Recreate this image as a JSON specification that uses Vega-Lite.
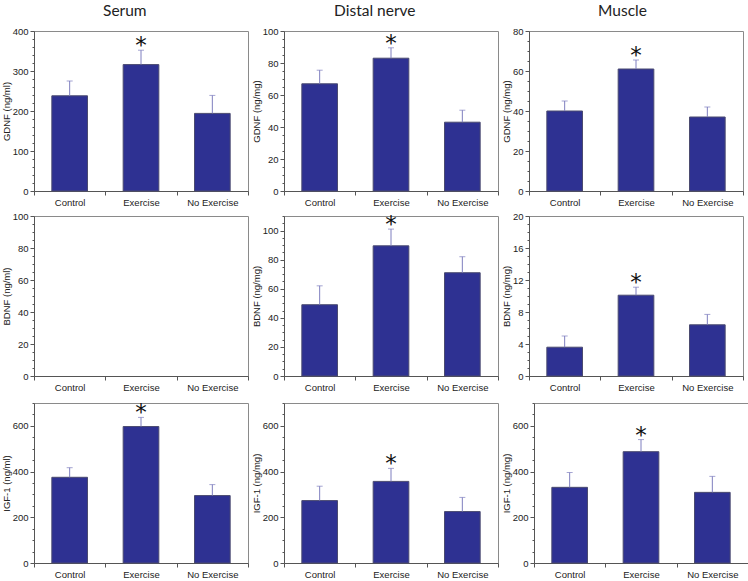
{
  "$schema": "https://vega.github.io/schema/vega-lite/v6.json",
  "padding": {"top": 3, "left": 0, "right": 3, "bottom": 0},
  "background": "white",
  "spacing": 9,
  "config": {
    "view": {"stroke": "#8a8a8a", "strokeWidth": 1},
    "axis": {
      "labelFont": "Liberation Sans", "labelFontSize": 9.5, "labelColor": "#222",
      "titleFont": "Liberation Sans", "titleFontSize": 9.5, "titleFontWeight": "normal", "titleColor": "#222",
      "domainColor": "#555", "tickColor": "#555", "grid": false, "tickSize": 4, "labelPadding": 2, "titlePadding": 1
    },
    "title": {"font": "Lato", "fontSize": 15.5, "fontWeight": "normal", "color": "#222", "anchor": "middle", "frame": "bounds", "offset": 7}
  },
  "datasets": {
    "d": [
      {"tissue": "Serum", "measure": "GDNF", "group": "Control", "mean": 238, "upper": 275, "star": ""},
      {"tissue": "Serum", "measure": "GDNF", "group": "Exercise", "mean": 316, "upper": 352, "star": "*"},
      {"tissue": "Serum", "measure": "GDNF", "group": "No Exercise", "mean": 194, "upper": 239, "star": ""},
      {"tissue": "Distal nerve", "measure": "GDNF", "group": "Control", "mean": 67, "upper": 75.5, "star": ""},
      {"tissue": "Distal nerve", "measure": "GDNF", "group": "Exercise", "mean": 83, "upper": 89.5, "star": "*"},
      {"tissue": "Distal nerve", "measure": "GDNF", "group": "No Exercise", "mean": 43, "upper": 50.5, "star": ""},
      {"tissue": "Muscle", "measure": "GDNF", "group": "Control", "mean": 40, "upper": 45, "star": ""},
      {"tissue": "Muscle", "measure": "GDNF", "group": "Exercise", "mean": 61, "upper": 65.5, "star": "*"},
      {"tissue": "Muscle", "measure": "GDNF", "group": "No Exercise", "mean": 37, "upper": 42, "star": ""},
      {"tissue": "Distal nerve", "measure": "BDNF", "group": "Control", "mean": 49, "upper": 62, "star": ""},
      {"tissue": "Distal nerve", "measure": "BDNF", "group": "Exercise", "mean": 89.5, "upper": 101, "star": "*"},
      {"tissue": "Distal nerve", "measure": "BDNF", "group": "No Exercise", "mean": 71, "upper": 82, "star": ""},
      {"tissue": "Muscle", "measure": "BDNF", "group": "Control", "mean": 3.6, "upper": 5.0, "star": ""},
      {"tissue": "Muscle", "measure": "BDNF", "group": "Exercise", "mean": 10.1, "upper": 11.1, "star": "*"},
      {"tissue": "Muscle", "measure": "BDNF", "group": "No Exercise", "mean": 6.4, "upper": 7.7, "star": ""},
      {"tissue": "Serum", "measure": "IGF", "group": "Control", "mean": 375, "upper": 417, "star": ""},
      {"tissue": "Serum", "measure": "IGF", "group": "Exercise", "mean": 597, "upper": 637, "star": "*"},
      {"tissue": "Serum", "measure": "IGF", "group": "No Exercise", "mean": 295, "upper": 343, "star": ""},
      {"tissue": "Distal nerve", "measure": "IGF", "group": "Control", "mean": 273, "upper": 336, "star": ""},
      {"tissue": "Distal nerve", "measure": "IGF", "group": "Exercise", "mean": 357, "upper": 414, "star": "*"},
      {"tissue": "Distal nerve", "measure": "IGF", "group": "No Exercise", "mean": 225, "upper": 287, "star": ""},
      {"tissue": "Muscle", "measure": "IGF", "group": "Control", "mean": 331, "upper": 396, "star": ""},
      {"tissue": "Muscle", "measure": "IGF", "group": "Exercise", "mean": 487, "upper": 540, "star": "*"},
      {"tissue": "Muscle", "measure": "IGF", "group": "No Exercise", "mean": 309, "upper": 379, "star": ""}
    ]
  },
  "vconcat": [
   {"spacing": 3, "vconcat": [
    {"spacing": 1, "hconcat": [
      {"width": 214, "height": 160, "title": "Serum", "data": {"name": "d"},
       "transform": [{"filter": "datum.tissue === 'Serum' && datum.measure === 'GDNF'"}],
       "encoding": {"x": {"field": "group", "type": "nominal", "scale": {"domain": ["Control", "Exercise", "No Exercise"], "paddingInner": 0, "paddingOuter": 0}, "axis": {"title": null, "labelAngle": 0, "tickBand": "extent"}}},
       "resolve": {"axis": {"y": "independent"}},
       "layer": [
         {"mark": {"type": "bar", "width": {"band": 0.5}, "fill": "#2e3192", "stroke": "#4b4b70", "strokeWidth": 1},
          "encoding": {"y": {"field": "mean", "type": "quantitative", "scale": {"domain": [0, 400]}, "axis": {"orient": "left", "title": "GDNF (ng/ml)", "values": [0, 100, 200, 300, 400]}}}},
         {"mark": {"type": "rule", "color": "#7f7fbf", "strokeWidth": 1},
          "encoding": {"y": {"field": "mean", "type": "quantitative", "scale": {"domain": [0, 400]}, "axis": {"orient": "left", "title": null, "labels": false, "domain": false, "tickSize": 2, "values": [20,40,60,80,120,140,160,180,220,240,260,280,320,340,360,380]}}, "y2": {"field": "upper"}}},
         {"mark": {"type": "tick", "color": "#7f7fbf", "size": 6, "thickness": 1},
          "encoding": {"y": {"field": "upper", "type": "quantitative", "scale": {"domain": [0, 400]}, "axis": null}}},
         {"mark": {"type": "text", "font": "DejaVu Sans", "fontSize": 23, "baseline": "alphabetic", "dy": 3, "color": "#111"},
          "encoding": {"y": {"field": "upper", "type": "quantitative", "scale": {"domain": [0, 400]}, "axis": null}, "text": {"field": "star"}}}
       ]},
      {"width": 214, "height": 160, "title": "Distal nerve", "data": {"name": "d"},
       "transform": [{"filter": "datum.tissue === 'Distal nerve' && datum.measure === 'GDNF'"}],
       "encoding": {"x": {"field": "group", "type": "nominal", "scale": {"domain": ["Control", "Exercise", "No Exercise"], "paddingInner": 0, "paddingOuter": 0}, "axis": {"title": null, "labelAngle": 0, "tickBand": "extent"}}},
       "resolve": {"axis": {"y": "independent"}},
       "layer": [
         {"mark": {"type": "bar", "width": {"band": 0.5}, "fill": "#2e3192", "stroke": "#4b4b70", "strokeWidth": 1},
          "encoding": {"y": {"field": "mean", "type": "quantitative", "scale": {"domain": [0, 100]}, "axis": {"orient": "left", "title": "GDNF (ng/mg)", "values": [0, 20, 40, 60, 80, 100]}}}},
         {"mark": {"type": "rule", "color": "#7f7fbf", "strokeWidth": 1},
          "encoding": {"y": {"field": "mean", "type": "quantitative", "scale": {"domain": [0, 100]}, "axis": {"orient": "left", "title": null, "labels": false, "domain": false, "tickSize": 2, "values": [5,10,15,25,30,35,45,50,55,65,70,75,85,90,95]}}, "y2": {"field": "upper"}}},
         {"mark": {"type": "tick", "color": "#7f7fbf", "size": 6, "thickness": 1},
          "encoding": {"y": {"field": "upper", "type": "quantitative", "scale": {"domain": [0, 100]}, "axis": null}}},
         {"mark": {"type": "text", "font": "DejaVu Sans", "fontSize": 23, "baseline": "alphabetic", "dy": 3, "color": "#111"},
          "encoding": {"y": {"field": "upper", "type": "quantitative", "scale": {"domain": [0, 100]}, "axis": null}, "text": {"field": "star"}}}
       ]},
      {"width": 214, "height": 160, "title": "Muscle", "data": {"name": "d"},
       "transform": [{"filter": "datum.tissue === 'Muscle' && datum.measure === 'GDNF'"}],
       "encoding": {"x": {"field": "group", "type": "nominal", "scale": {"domain": ["Control", "Exercise", "No Exercise"], "paddingInner": 0, "paddingOuter": 0}, "axis": {"title": null, "labelAngle": 0, "tickBand": "extent"}}},
       "resolve": {"axis": {"y": "independent"}},
       "layer": [
         {"mark": {"type": "bar", "width": {"band": 0.5}, "fill": "#2e3192", "stroke": "#4b4b70", "strokeWidth": 1},
          "encoding": {"y": {"field": "mean", "type": "quantitative", "scale": {"domain": [0, 80]}, "axis": {"orient": "left", "title": "GDNF (ng/mg)", "values": [0, 20, 40, 60, 80]}}}},
         {"mark": {"type": "rule", "color": "#7f7fbf", "strokeWidth": 1},
          "encoding": {"y": {"field": "mean", "type": "quantitative", "scale": {"domain": [0, 80]}, "axis": {"orient": "left", "title": null, "labels": false, "domain": false, "tickSize": 2, "values": [5,10,15,25,30,35,45,50,55,65,70,75]}}, "y2": {"field": "upper"}}},
         {"mark": {"type": "tick", "color": "#7f7fbf", "size": 6, "thickness": 1},
          "encoding": {"y": {"field": "upper", "type": "quantitative", "scale": {"domain": [0, 80]}, "axis": null}}},
         {"mark": {"type": "text", "font": "DejaVu Sans", "fontSize": 23, "baseline": "alphabetic", "dy": 3, "color": "#111"},
          "encoding": {"y": {"field": "upper", "type": "quantitative", "scale": {"domain": [0, 80]}, "axis": null}, "text": {"field": "star"}}}
       ]}
    ]},
    {"spacing": 1, "hconcat": [
      {"width": 214, "height": 160, "data": {"name": "d"},
       "transform": [{"filter": "datum.tissue === 'Serum' && datum.measure === 'BDNF'"}],
       "encoding": {"x": {"field": "group", "type": "nominal", "scale": {"domain": ["Control", "Exercise", "No Exercise"], "paddingInner": 0, "paddingOuter": 0}, "axis": {"title": null, "labelAngle": 0, "tickBand": "extent"}}},
       "resolve": {"axis": {"y": "independent"}},
       "layer": [
         {"mark": {"type": "bar", "width": {"band": 0.5}, "fill": "#2e3192", "stroke": "#4b4b70", "strokeWidth": 1},
          "encoding": {"y": {"field": "mean", "type": "quantitative", "scale": {"domain": [0, 100]}, "axis": {"orient": "left", "title": "BDNF (ng/ml)", "values": [0, 20, 40, 60, 80, 100]}}}},
         {"mark": {"type": "rule", "color": "#7f7fbf", "strokeWidth": 1},
          "encoding": {"y": {"field": "mean", "type": "quantitative", "scale": {"domain": [0, 100]}, "axis": {"orient": "left", "title": null, "labels": false, "domain": false, "tickSize": 2, "values": [5,10,15,25,30,35,45,50,55,65,70,75,85,90,95]}}, "y2": {"field": "upper"}}}
       ]},
      {"width": 214, "height": 160, "data": {"name": "d"},
       "transform": [{"filter": "datum.tissue === 'Distal nerve' && datum.measure === 'BDNF'"}],
       "encoding": {"x": {"field": "group", "type": "nominal", "scale": {"domain": ["Control", "Exercise", "No Exercise"], "paddingInner": 0, "paddingOuter": 0}, "axis": {"title": null, "labelAngle": 0, "tickBand": "extent"}}},
       "resolve": {"axis": {"y": "independent"}},
       "layer": [
         {"mark": {"type": "bar", "width": {"band": 0.5}, "fill": "#2e3192", "stroke": "#4b4b70", "strokeWidth": 1},
          "encoding": {"y": {"field": "mean", "type": "quantitative", "scale": {"domain": [0, 110]}, "axis": {"orient": "left", "title": "BDNF (ng/mg)", "values": [0, 20, 40, 60, 80, 100]}}}},
         {"mark": {"type": "rule", "color": "#7f7fbf", "strokeWidth": 1},
          "encoding": {"y": {"field": "mean", "type": "quantitative", "scale": {"domain": [0, 110]}, "axis": {"orient": "left", "title": null, "labels": false, "domain": false, "tickSize": 2, "values": [5,10,15,25,30,35,45,50,55,65,70,75,85,90,95,105,110]}}, "y2": {"field": "upper"}}},
         {"mark": {"type": "tick", "color": "#7f7fbf", "size": 6, "thickness": 1},
          "encoding": {"y": {"field": "upper", "type": "quantitative", "scale": {"domain": [0, 110]}, "axis": null}}},
         {"mark": {"type": "text", "font": "DejaVu Sans", "fontSize": 23, "baseline": "alphabetic", "dy": 3, "color": "#111"},
          "encoding": {"y": {"field": "upper", "type": "quantitative", "scale": {"domain": [0, 110]}, "axis": null}, "text": {"field": "star"}}}
       ]},
      {"width": 214, "height": 160, "data": {"name": "d"},
       "transform": [{"filter": "datum.tissue === 'Muscle' && datum.measure === 'BDNF'"}],
       "encoding": {"x": {"field": "group", "type": "nominal", "scale": {"domain": ["Control", "Exercise", "No Exercise"], "paddingInner": 0, "paddingOuter": 0}, "axis": {"title": null, "labelAngle": 0, "tickBand": "extent"}}},
       "resolve": {"axis": {"y": "independent"}},
       "layer": [
         {"mark": {"type": "bar", "width": {"band": 0.5}, "fill": "#2e3192", "stroke": "#4b4b70", "strokeWidth": 1},
          "encoding": {"y": {"field": "mean", "type": "quantitative", "scale": {"domain": [0, 20]}, "axis": {"orient": "left", "title": "BDNF (ng/mg)", "values": [0, 4, 8, 12, 16, 20]}}}},
         {"mark": {"type": "rule", "color": "#7f7fbf", "strokeWidth": 1},
          "encoding": {"y": {"field": "mean", "type": "quantitative", "scale": {"domain": [0, 20]}, "axis": {"orient": "left", "title": null, "labels": false, "domain": false, "tickSize": 2, "values": [1,2,3,5,6,7,9,10,11,13,14,15,17,18,19]}}, "y2": {"field": "upper"}}},
         {"mark": {"type": "tick", "color": "#7f7fbf", "size": 6, "thickness": 1},
          "encoding": {"y": {"field": "upper", "type": "quantitative", "scale": {"domain": [0, 20]}, "axis": null}}},
         {"mark": {"type": "text", "font": "DejaVu Sans", "fontSize": 23, "baseline": "alphabetic", "dy": 3, "color": "#111"},
          "encoding": {"y": {"field": "upper", "type": "quantitative", "scale": {"domain": [0, 20]}, "axis": null}, "text": {"field": "star"}}}
       ]}
    ]}
   ]},
    {"spacing": 1, "hconcat": [
      {"width": 214, "height": 160, "data": {"name": "d"},
       "transform": [{"filter": "datum.tissue === 'Serum' && datum.measure === 'IGF'"}],
       "encoding": {"x": {"field": "group", "type": "nominal", "scale": {"domain": ["Control", "Exercise", "No Exercise"], "paddingInner": 0, "paddingOuter": 0}, "axis": {"title": null, "labelAngle": 0, "tickBand": "extent"}}},
       "resolve": {"axis": {"y": "independent"}},
       "layer": [
         {"mark": {"type": "bar", "width": {"band": 0.5}, "fill": "#2e3192", "stroke": "#4b4b70", "strokeWidth": 1},
          "encoding": {"y": {"field": "mean", "type": "quantitative", "scale": {"domain": [0, 700]}, "axis": {"orient": "left", "title": "IGF-1 (ng/ml)", "values": [0, 200, 400, 600]}}}},
         {"mark": {"type": "rule", "color": "#7f7fbf", "strokeWidth": 1},
          "encoding": {"y": {"field": "mean", "type": "quantitative", "scale": {"domain": [0, 700]}, "axis": {"orient": "left", "title": null, "labels": false, "domain": false, "tickSize": 2, "values": [50,100,150,250,300,350,450,500,550,650,700]}}, "y2": {"field": "upper"}}},
         {"mark": {"type": "tick", "color": "#7f7fbf", "size": 6, "thickness": 1},
          "encoding": {"y": {"field": "upper", "type": "quantitative", "scale": {"domain": [0, 700]}, "axis": null}}},
         {"mark": {"type": "text", "font": "DejaVu Sans", "fontSize": 23, "baseline": "alphabetic", "dy": 3, "color": "#111"},
          "encoding": {"y": {"field": "upper", "type": "quantitative", "scale": {"domain": [0, 700]}, "axis": null}, "text": {"field": "star"}}}
       ]},
      {"width": 214, "height": 160, "data": {"name": "d"},
       "transform": [{"filter": "datum.tissue === 'Distal nerve' && datum.measure === 'IGF'"}],
       "encoding": {"x": {"field": "group", "type": "nominal", "scale": {"domain": ["Control", "Exercise", "No Exercise"], "paddingInner": 0, "paddingOuter": 0}, "axis": {"title": null, "labelAngle": 0, "tickBand": "extent"}}},
       "resolve": {"axis": {"y": "independent"}},
       "layer": [
         {"mark": {"type": "bar", "width": {"band": 0.5}, "fill": "#2e3192", "stroke": "#4b4b70", "strokeWidth": 1},
          "encoding": {"y": {"field": "mean", "type": "quantitative", "scale": {"domain": [0, 700]}, "axis": {"orient": "left", "title": "IGF-1 (ng/mg)", "values": [0, 200, 400, 600]}}}},
         {"mark": {"type": "rule", "color": "#7f7fbf", "strokeWidth": 1},
          "encoding": {"y": {"field": "mean", "type": "quantitative", "scale": {"domain": [0, 700]}, "axis": {"orient": "left", "title": null, "labels": false, "domain": false, "tickSize": 2, "values": [50,100,150,250,300,350,450,500,550,650,700]}}, "y2": {"field": "upper"}}},
         {"mark": {"type": "tick", "color": "#7f7fbf", "size": 6, "thickness": 1},
          "encoding": {"y": {"field": "upper", "type": "quantitative", "scale": {"domain": [0, 700]}, "axis": null}}},
         {"mark": {"type": "text", "font": "DejaVu Sans", "fontSize": 23, "baseline": "alphabetic", "dy": 3, "color": "#111"},
          "encoding": {"y": {"field": "upper", "type": "quantitative", "scale": {"domain": [0, 700]}, "axis": null}, "text": {"field": "star"}}}
       ]},
      {"width": 214, "height": 160, "data": {"name": "d"},
       "transform": [{"filter": "datum.tissue === 'Muscle' && datum.measure === 'IGF'"}],
       "encoding": {"x": {"field": "group", "type": "nominal", "scale": {"domain": ["Control", "Exercise", "No Exercise"], "paddingInner": 0, "paddingOuter": 0}, "axis": {"title": null, "labelAngle": 0, "tickBand": "extent"}}},
       "resolve": {"axis": {"y": "independent"}},
       "layer": [
         {"mark": {"type": "bar", "width": {"band": 0.5}, "fill": "#2e3192", "stroke": "#4b4b70", "strokeWidth": 1},
          "encoding": {"y": {"field": "mean", "type": "quantitative", "scale": {"domain": [0, 700]}, "axis": {"orient": "left", "title": "IGF-1 (ng/mg)", "values": [0, 200, 400, 600]}}}},
         {"mark": {"type": "rule", "color": "#7f7fbf", "strokeWidth": 1},
          "encoding": {"y": {"field": "mean", "type": "quantitative", "scale": {"domain": [0, 700]}, "axis": {"orient": "left", "title": null, "labels": false, "domain": false, "tickSize": 2, "values": [50,100,150,250,300,350,450,500,550,650,700]}}, "y2": {"field": "upper"}}},
         {"mark": {"type": "tick", "color": "#7f7fbf", "size": 6, "thickness": 1},
          "encoding": {"y": {"field": "upper", "type": "quantitative", "scale": {"domain": [0, 700]}, "axis": null}}},
         {"mark": {"type": "text", "font": "DejaVu Sans", "fontSize": 23, "baseline": "alphabetic", "dy": 3, "color": "#111"},
          "encoding": {"y": {"field": "upper", "type": "quantitative", "scale": {"domain": [0, 700]}, "axis": null}, "text": {"field": "star"}}}
       ]}
    ]}
  ]
}
